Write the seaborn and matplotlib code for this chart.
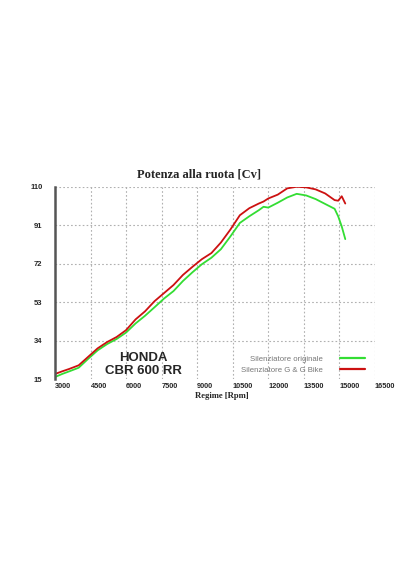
import pandas as pd
import matplotlib.pyplot as plt
import seaborn as sns

rpm = [3000, 3300, 3600, 4000, 4400, 4800, 5200, 5600, 6000, 6400, 6800,
       7200, 7600, 8000, 8400, 8800, 9200, 9600, 10000, 10400, 10800, 11200,
       11600, 11800, 12000, 12400, 12800, 13200, 13600, 14000, 14400, 14800,
       14950, 15100, 15250]
cv_originale = [16.0, 17.5, 18.8, 20.6, 25.0, 29.2, 32.3, 34.8, 38.0, 42.5,
                46.3, 50.5, 54.8, 58.5, 63.5, 67.8, 71.8, 75.0, 79.2, 85.5,
                92.2, 95.5, 98.5, 100.2, 99.8, 102.2, 104.8, 106.6, 105.8,
                104.0, 101.6, 99.2, 95.5, 90.5, 84.2]
cv_ggbike = [17.5, 18.8, 20.0, 21.8, 26.0, 30.2, 33.3, 35.8, 39.2, 44.5,
             48.5, 53.5, 57.5, 61.5, 66.5, 70.5, 74.3, 77.3, 82.5, 88.9,
             96.0, 99.5, 101.8, 102.8, 104.3, 106.2, 109.3, 110.1, 109.8,
             108.8, 106.8, 103.5, 103.2, 105.4, 101.8]
serie = ['Silenziatore originale', 'Silenziatore G & G Bike']
colori = ['#33dd33', '#cc1111']
x_ticks = [3000, 4500, 6000, 7500, 9000, 10500, 12000, 13500, 15000, 16500]
y_ticks = [15, 34, 53, 72, 91, 110]

df = pd.DataFrame({
    'Regime': rpm * 2,
    'Cv': cv_originale + cv_ggbike,
    'Serie': [serie[0]] * len(rpm) + [serie[1]] * len(rpm),
})

sns.set_style('white')
plt.rcParams['font.family'] = ['Liberation Sans', 'DejaVu Sans']

fig = plt.figure(figsize=(4.16, 5.70), dpi=100)
ax = fig.add_axes([0.1322, 0.335, 0.769, 0.337])

sns.lineplot(data=df, x='Regime', y='Cv', hue='Serie', hue_order=serie,
             palette=colori, linewidth=1.3, ax=ax)

ax.set_xlim(3000, 16500)
ax.set_ylim(15, 110)
ax.set_xticks(x_ticks)
ax.set_yticks(y_ticks)
ax.set_xticklabels([str(t) for t in x_ticks], fontsize=5.3, fontweight='bold',
                   ha='left')
ax.set_yticklabels([str(t) for t in y_ticks], fontsize=5.5, fontweight='bold')
ax.tick_params(length=0)
ax.tick_params(axis='x', pad=3)
ax.tick_params(axis='y', pad=9)

ax.grid(True, color='#b0b0b0', linestyle=(0, (1.5, 2)), linewidth=0.8)
ax.yaxis.get_gridlines()[0].set_visible(False)
ax.xaxis.get_gridlines()[0].set_visible(False)

for s in ['top', 'right', 'bottom']:
    ax.spines[s].set_visible(False)
ax.spines['left'].set_color('#555555')
ax.spines['left'].set_linewidth(1.8)

ax.set_ylabel('')
ax.set_xlabel('Regime [Rpm]', family='Liberation Serif', fontweight='bold',
              fontsize=6.2)
ax.xaxis.set_label_coords(0.52, -0.07)

fig.text(0.478, 0.693, 'Potenza alla ruota [Cv]', family='Liberation Serif',
         fontweight='bold', fontsize=9, ha='center', va='center')

ax.text(0.275, 0.11, 'HONDA', transform=ax.transAxes, ha='center',
        va='center', fontsize=9.5, fontweight='bold')
ax.text(0.275, 0.04, 'CBR 600 RR', transform=ax.transAxes, ha='center',
        va='center', fontsize=9.5, fontweight='bold')

leg = ax.legend(loc='lower right', bbox_to_anchor=(0.985, 0.0), frameon=False,
                markerfirst=False, fontsize=5.6, handlelength=3.2,
                handletextpad=2.2, labelspacing=0.45, borderpad=0.2)
for t in leg.get_texts():
    t.set_color('#777777')
for l in leg.get_lines():
    l.set_linewidth(1.6)

plt.savefig('out.png', dpi=100)
